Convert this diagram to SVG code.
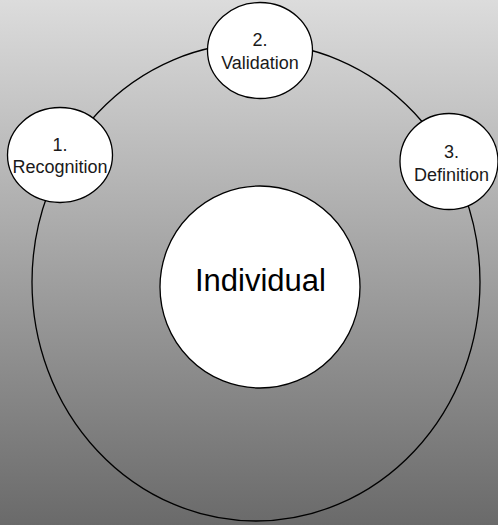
<svg xmlns="http://www.w3.org/2000/svg" width="498" height="525" viewBox="0 0 498 525">
<defs>
<linearGradient id="bg" x1="0" y1="0" x2="0" y2="1">
<stop offset="0" stop-color="#dcdcdc"/>
<stop offset="1" stop-color="#6a6a6a"/>
</linearGradient>
<style>
.node{fill:#ffffff;stroke:#000000;stroke-width:1.3}
.conn{fill:none;stroke:#000000;stroke-width:1.3}
.lbl{font-family:"Liberation Sans",Arial,sans-serif;font-size:18px;fill:#1a1a1a;text-anchor:middle}
.big{font-family:"Liberation Sans",Arial,sans-serif;font-size:31px;fill:#000000;text-anchor:middle}
</style>
</defs>
<rect x="0" y="0" width="498" height="525" fill="url(#bg)"/>
<g id="connectors">
<ellipse class="conn" cx="256" cy="282" rx="224" ry="239"/>
</g>
<g id="individual">
<ellipse class="node" cx="260" cy="287" rx="100" ry="101"/>
<text class="big" x="260.5" y="291">Individual</text>
</g>
<g id="validation">
<ellipse class="node" cx="260" cy="50.5" rx="52.5" ry="48"/>
<text class="lbl" x="260" y="46">2.</text>
<text class="lbl" x="260" y="69">Validation</text>
</g>
<g id="recognition">
<ellipse class="node" cx="60" cy="155" rx="52.5" ry="47.5"/>
<text class="lbl" x="60" y="151">1.</text>
<text class="lbl" x="60" y="173">Recognition</text>
</g>
<g id="definition">
<ellipse class="node" cx="449" cy="161.5" rx="49" ry="48"/>
<text class="lbl" x="451.5" y="158">3.</text>
<text class="lbl" x="451.5" y="181">Definition</text>
</g>
</svg>
